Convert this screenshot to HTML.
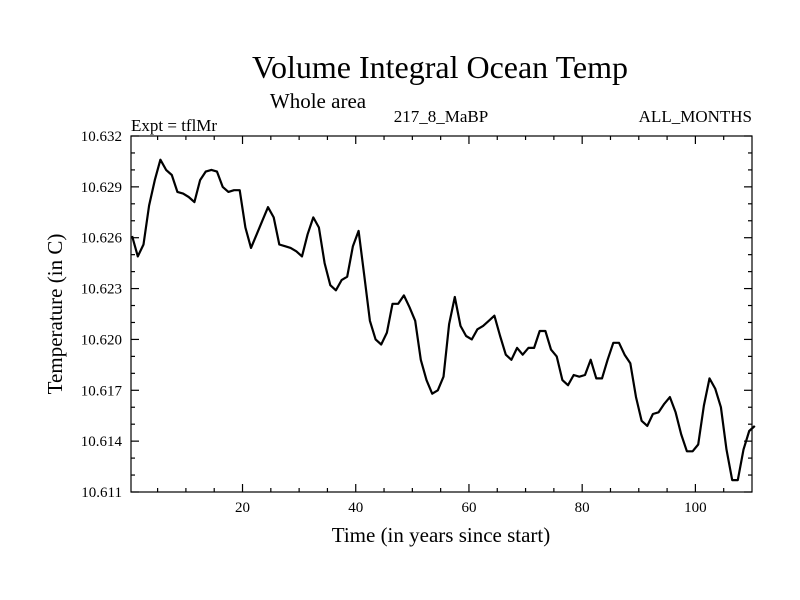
<!DOCTYPE html>
<html><head><meta charset="utf-8"><style>
body{margin:0;background:#fff;}
svg{display:block;font-family:"Liberation Serif",serif;}
</style></head><body>
<svg id="chart" width="800" height="600">
<rect width="800" height="600" fill="#fff"/>
<text x="440" y="78" font-size="32" text-anchor="middle">Volume Integral Ocean Temp</text>
<text x="318" y="108" font-size="21" text-anchor="middle">Whole area</text>
<text x="131" y="131" font-size="17">Expt = tflMr</text>
<text x="441" y="122" font-size="17" text-anchor="middle">217_8_MaBP</text>
<text x="752" y="122" font-size="17" text-anchor="end">ALL_MONTHS</text>
<text x="441" y="542" font-size="21" text-anchor="middle">Time (in years since start)</text>
<text transform="translate(62,314) rotate(-90)" font-size="21" text-anchor="middle">Temperature (in C)</text>
<g id="axes"></g>
<path id="line" fill="none" stroke="#000" stroke-width="2.2" stroke-linejoin="round"/>
<rect x="131" y="136" width="621" height="356" fill="none" stroke="#000" stroke-width="1.2"/>
</svg>
<script>
const yTicks=[10.611,10.614,10.617,10.620,10.623,10.626,10.629,10.632];
const yTickLabels=["10.611","10.614","10.617","10.620","10.623","10.626","10.629","10.632"];
const xTicks=[20,40,60,80,100];
const xTickLabels=["20","40","60","80","100"];
const temps=[10.6261,10.6249,10.6256,10.6279,10.6294,10.6306,10.6300,10.6297,10.6287,10.6286,
10.6284,10.6281,10.6294,10.6299,10.6300,10.6299,10.6290,10.6287,10.6288,10.6288,
10.6266,10.6254,10.6262,10.6270,10.6278,10.6272,10.6256,10.6255,10.6254,10.6252,
10.6249,10.6262,10.6272,10.6266,10.6245,10.6232,10.6229,10.6235,10.6237,10.6255,
10.6264,10.6238,10.6211,10.6200,10.6197,10.6204,10.6221,10.6221,10.6226,10.6219,
10.6211,10.6188,10.6176,10.6168,10.6170,10.6178,10.6209,10.6225,10.6208,10.6202,
10.6200,10.6206,10.6208,10.6211,10.6214,10.6202,10.6191,10.6188,10.6195,10.6191,
10.6195,10.6195,10.6205,10.6205,10.6194,10.6190,10.6176,10.6173,10.6179,10.6178,
10.6179,10.6188,10.6177,10.6177,10.6188,10.6198,10.6198,10.6191,10.6186,10.6166,
10.6152,10.6149,10.6156,10.6157,10.6162,10.6166,10.6157,10.6144,10.6134,10.6134,
10.6138,10.6161,10.6177,10.6171,10.6160,10.6135,10.6117,10.6117,10.6135,10.6146,10.6149];
const L=131,R=752,T=136,B=492,X0=0.3,X1=110,Y0=10.611,Y1=10.632;
const xs=v=>L+(v-X0)/(X1-X0)*(R-L);
const ys=v=>B-(v-Y0)/(Y1-Y0)*(B-T);
const NS="http://www.w3.org/2000/svg";
const g=document.getElementById('axes');
function ln(x1,y1,x2,y2,name){const e=document.createElementNS(NS,'line');
e.setAttribute('x1',x1);e.setAttribute('y1',y1);e.setAttribute('x2',x2);e.setAttribute('y2',y2);
e.setAttribute('stroke','#000');e.setAttribute('stroke-width','1.2');


g.appendChild(e);}
function tx(x,y,s,anchor,name){const e=document.createElementNS(NS,'text');
e.setAttribute('x',x);e.setAttribute('y',y);e.setAttribute('font-size','15');e.setAttribute('text-anchor',anchor);e.textContent=s;


g.appendChild(e);}
yTicks.forEach((v,i)=>{const y=ys(v);ln(L,y,L+8,y,'y-tick');ln(R,y,R-8,y,'y-tick-right');tx(122,y+5,yTickLabels[i],'end','y-tick-label');});
for(let i=0;i<yTicks.length-1;i++){for(let k=1;k<3;k++){const y=ys(yTicks[i]+k*0.001);ln(L,y,L+4,y,'y-minor-tick');ln(R,y,R-4,y,'y-minor-tick-right');}}
xTicks.forEach((v,i)=>{const x=xs(v);ln(x,B,x,B-8,'x-tick');ln(x,T,x,T+8,'x-tick-top');tx(x,512,xTickLabels[i],'middle','x-tick-label');});
for(let v=5;v<X1;v+=5){if(v%20===0)continue;const x=xs(v);ln(x,B,x,B-4,'x-minor-tick');ln(x,T,x,T+4,'x-minor-tick-top');}
document.getElementById('line').setAttribute('d',temps.map((v,i)=>(i?'L':'M')+xs(i+0.5).toFixed(1)+','+ys(v).toFixed(1)).join(''));
</script>
</body></html>
